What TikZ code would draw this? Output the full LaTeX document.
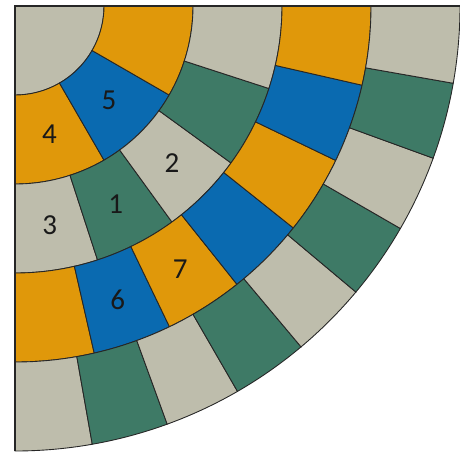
\documentclass[tikz,border=0pt]{standalone}
\usepackage{fontspec}
\setmainfont{Carlito}
\usepackage{tikz}
\definecolor{tilegray}{RGB}{190,189,172}
\definecolor{tileorange}{RGB}{224,152,10}
\definecolor{tileblue}{RGB}{10,106,176}
\definecolor{tilegreen}{RGB}{62,122,102}
\tikzset{
  cell/.style={draw=black!85, line width=0.5pt},
  num/.style={font=\fontsize{16.5}{19}\selectfont, text=black!90},
}

\begin{document}
\begin{tikzpicture}[x=0.02cm, y=0.02cm]
  \useasboundingbox (-15,-448) rectangle (445,6);
  % centre piece
  \filldraw[cell, fill=tilegray] (0,0) -- (0:89) arc[start angle=0, end angle=-90, radius=89] -- cycle;
  % rings with 2k+1 tiles each
  \foreach \k/\ca/\cb in {1/tileorange/tileblue, 2/tilegray/tilegreen, 3/tileorange/tileblue, 4/tilegray/tilegreen}{
    \pgfmathtruncatemacro\n{2*\k}
    \pgfmathsetmacro\w{90/(2*\k+1)}
    \pgfmathsetmacro\ra{89*\k}
    \pgfmathsetmacro\rb{89*(\k+1)}
    \foreach \j in {0,...,\n}{
      \pgfmathsetmacro\aa{-90+\j*\w}
      \pgfmathsetmacro\ab{\aa+\w}
      \ifodd\j \def\c{\cb}\else \def\c{\ca}\fi
      \filldraw[cell, fill=\c] (\aa:\ra) arc[start angle=\aa, end angle=\ab, radius=\ra]
        -- (\ab:\rb) arc[start angle=\ab, end angle=\aa, radius=\rb] -- cycle;
    }
  }
  % frame
  \draw[line width=1pt, black!85] (0,-445) -- (0,0) -- (445,0);
  % numbers
  \node[num] (t1) at (-63:222) {1};
  \node[num] (t2) at (-45:222) {2};
  \node[num] (t3) at (-81:222) {3};
  \node[num] (t4) at (-75:133) {4};
  \node[num] (t5) at (-45:133) {5};
  \node[num] (t6) at (-70.7:311) {6};
  \node[num] (t7) at (-57.9:311) {7};
\end{tikzpicture}
\end{document}
